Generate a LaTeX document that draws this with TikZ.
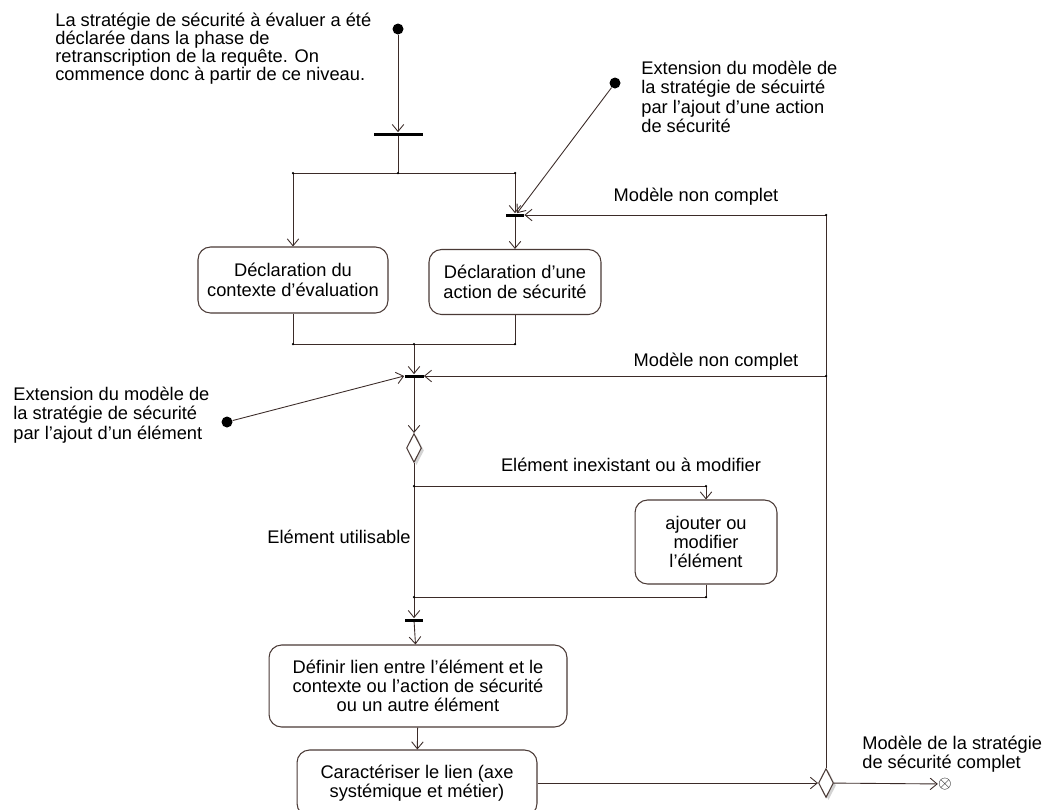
\documentclass[tikz,border=0pt]{standalone}
\usepackage{fontspec}
\setmainfont{Liberation Sans}
\usepackage{tikz}
\usetikzlibrary{positioning, arrows.meta, shapes.geometric, shadows}
\definecolor{linecol}{HTML}{3B2B28}
\definecolor{boxline}{HTML}{4A3A36}
\tikzset{
  action/.style={
    draw=boxline,
    line width=0.6pt,
    rounded corners=2.5mm,
    fill=white,
    align=center,
    inner sep=2pt
  },
  initdot/.style={circle, fill=black, minimum size=2.2mm, inner sep=0pt},
  syncbar/.style={fill=black, inner sep=0pt, minimum height=0.6mm},
  choice/.style={
    diamond, draw=boxline, line width=0.6pt, fill=white,
    minimum width=3mm, minimum height=5.8mm, inner sep=0pt,
    drop shadow={opacity=0.35, shadow xshift=0.5mm, shadow yshift=-0.5mm}
  },
  note/.style={align=left, inner sep=0pt},
  guard/.style={inner sep=0pt},
  flow/.style={-{Straight Barb[length=1.4mm, width=2.3mm]}, draw=linecol, line width=0.5pt},
  link/.style={draw=linecol, line width=0.5pt},
  joint/.style={circle, fill=black, inner sep=0pt, minimum size=0.5mm}
}

\begin{document}
\begin{tikzpicture}[x=0.02cm, y=-0.02cm, font=\fontsize{10.4}{11}\selectfont]
  \useasboundingbox (0,0) rectangle (1043,809);

  % Start and first fork
  \node[initdot] (start) at (398,29) {};
  \node[note, anchor=west, font=\fontsize{10.4}{10.2}\selectfont] (note1) at (55,49) {La stratégie de sécurité à évaluer a été\\déclarée dans la phase de\\retranscription de la requête. On\\commence donc à partir de ce niveau.};
  \node[syncbar, minimum width=0.98cm] (fork) at (398,134) {};
  \coordinate (splitL) at (293,173);
  \coordinate (splitM) at (398,173);
  \coordinate (splitR) at (515,173);

  % Extension: security action
  \node[initdot] (startA) at (615,83) {};
  \node[note, anchor=west] (note2) at (641,97) {Extension du modèle de\\la stratégie de sécuirté\\par l'ajout d'une action\\de sécurité};
  \node[syncbar, minimum width=3.6mm] (joinA) at (515,215) {};
  \coordinate (loopA) at (826,215);
  \node[guard] (nc1) at (696,197) {Modèle non complet};

  % Declarations
  \node[action, minimum width=3.8cm, minimum height=1.32cm] (ctx) at (293,280) {Déclaration du\\contexte d'évaluation};
  \node[action, minimum width=3.44cm, minimum height=1.3cm] (sec) at (515,282) {Déclaration d'une\\action de sécurité};
  \coordinate (mergeM) at (414,344);

  % Extension: element
  \node[syncbar, minimum width=3.8mm] (joinB) at (414,376) {};
  \node[initdot] (startB) at (227,422) {};
  \node[note, anchor=west] (note3) at (13,415) {Extension du modèle de\\la stratégie de sécurité\\par l'ajout d'un élément};
  \coordinate (loopB) at (826,376);
  \node[guard] (nc2) at (716,362) {Modèle non complet};

  % Element choice
  \node[choice] (testA) at (414,448) {};
  \coordinate (forkB) at (414,486);
  \node[guard] (inex) at (631,465) {Elément inexistant ou à modifier};
  \node[guard, anchor=east] (util) at (411,537) {Elément utilisable};
  \node[action, minimum width=2.84cm, minimum height=1.68cm] (modif) at (706,542) {ajouter ou\\modifier\\l'élément};
  \coordinate (mergeB) at (414,597);
  \node[syncbar, minimum width=3.6mm] (joinC) at (414,620) {};

  % Link definition
  \node[action, minimum width=5.96cm, minimum height=1.64cm] (lien) at (418,686) {Définir lien entre l'élément et le\\contexte ou l'action de sécurité\\ou un autre élément};
  \node[action, minimum width=4.8cm, minimum height=1.32cm] (carac) at (417,783) {Caractériser le lien (axe\\systémique et métier)};

  % End
  \node[choice] (testB) at (826,783) {};
  \node[inner sep=0pt] (fin) at (945,784) {$\otimes$};
  \node[note, anchor=west] (done) at (862,754) {Modèle de la stratégie\\de sécurité complet};

  % Connectors
  \draw[flow] (start) -- (fork);
  \draw[link] (fork) -- (splitM);
  \draw[link] (splitL) -- (splitR);
  \draw[flow] (splitL) -- (ctx);
  \draw[flow] (splitR) -- (joinA);
  \draw[flow] (startA) -- ([xshift=0.4mm]joinA.north);
  \draw[flow] (loopA) -- (joinA.east);
  \draw[flow] (joinA) -- (sec);
  \draw[link] (ctx) -- (ctx.south |- mergeM) -- (sec.south |- mergeM) -- (sec);
  \draw[flow] (mergeM) -- (joinB);
  \draw[flow] (startB) -- (joinB.west);
  \draw[flow] (loopB) -- (joinB.east);
  \draw[flow] (joinB) -- (testA);
  \draw[link] (testA) -- (mergeB);
  \draw[flow] (forkB) -- (forkB -| modif) -- (modif);
  \draw[link] (modif) -- (modif |- mergeB) -- (mergeB);
  \draw[flow] (mergeB) -- (joinC);
  \draw[flow] (joinC) -- (lien);
  \draw[flow] (lien) -- (carac);
  \draw[flow] (carac) -- (testB);
  \draw[flow] (testB) -- (fin);
  \draw[link] (testB) -- (loopB) -- (loopA);

  % Junction points
  \foreach \j in {splitL, splitM, splitR, loopA, loopB, mergeM, forkB, mergeB}
    \node[joint] at (\j) {};
  \node[joint] at (ctx.south |- mergeM) {};
  \node[joint] at (sec.south |- mergeM) {};
  \node[joint] at (forkB -| modif) {};
  \node[joint] at (modif |- mergeB) {};
\end{tikzpicture}
\end{document}
